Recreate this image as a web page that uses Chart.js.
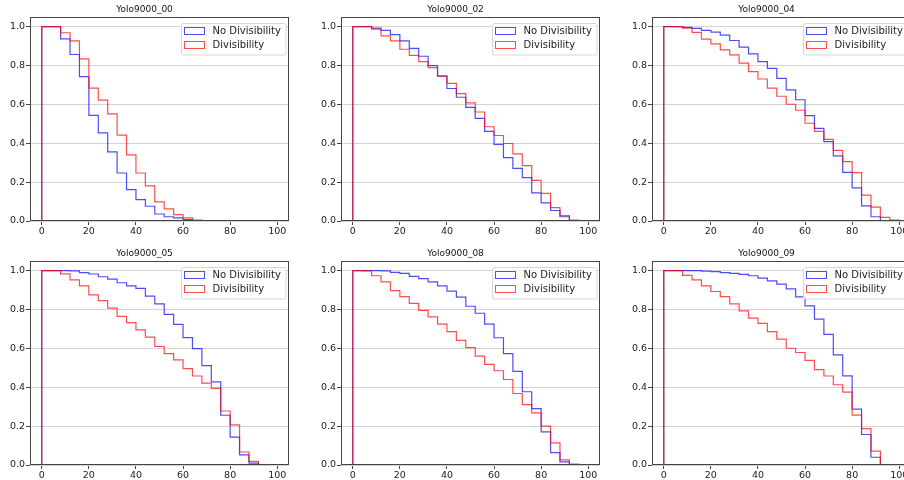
<!DOCTYPE html>
<html>
<head>
<meta charset="utf-8">
<script src="https://cdn.jsdelivr.net/npm/chart.js@4.4.1/dist/chart.umd.min.js"></script>
<style>
    html, body { margin: 0; padding: 0; background: #fff; }
    body { width: 904px; height: 480px; overflow: hidden; position: relative; }
    canvas { position: absolute; }
</style>
</head>
<body>
<canvas id="c0"></canvas>
<canvas id="c1"></canvas>
<canvas id="c2"></canvas>
<canvas id="c3"></canvas>
<canvas id="c4"></canvas>
<canvas id="c5"></canvas>
<script>
// Batas bin histogram (lebar 4)
const binEdges = [0, 4, 8, 12, 16, 20, 24, 28, 32, 36, 40, 44, 48, 52, 56, 60, 64, 68, 72, 76, 80, 84, 88, 92, 96, 100];
const xTicks = [0, 20, 40, 60, 80, 100];
const yTicks = [0, 0.2, 0.4, 0.6, 0.8, 1.0];
const seriesLabels = ['No Divisibility', 'Divisibility'];
const titles = ['Yolo9000_00', 'Yolo9000_02', 'Yolo9000_04', 'Yolo9000_05', 'Yolo9000_08', 'Yolo9000_09'];

// Nilai tiap bin
const noDiv00 = [1.0, 1.0, 0.937, 0.857, 0.743, 0.544, 0.454, 0.356, 0.247, 0.161, 0.110, 0.076, 0.036, 0.022, 0.016, 0.007, 0.002, 0, 0, 0, 0, 0, 0, 0, 0];
const div00   = [1.0, 1.0, 0.969, 0.927, 0.834, 0.684, 0.622, 0.551, 0.442, 0.340, 0.247, 0.181, 0.098, 0.062, 0.033, 0.016, 0.005, 0.001, 0, 0, 0, 0, 0, 0, 0];

const noDiv02 = [1.0, 1.0, 0.993, 0.981, 0.959, 0.927, 0.889, 0.848, 0.800, 0.746, 0.682, 0.637, 0.585, 0.528, 0.461, 0.394, 0.326, 0.271, 0.223, 0.145, 0.093, 0.054, 0.022, 0.003, 0];
const div02   = [1.0, 1.0, 0.988, 0.953, 0.927, 0.884, 0.852, 0.820, 0.789, 0.746, 0.708, 0.656, 0.608, 0.561, 0.485, 0.440, 0.399, 0.345, 0.285, 0.209, 0.142, 0.069, 0.028, 0.003, 0.001];

const noDiv04 = [1.0, 1.0, 0.997, 0.991, 0.981, 0.972, 0.957, 0.929, 0.895, 0.860, 0.820, 0.786, 0.734, 0.675, 0.624, 0.542, 0.477, 0.409, 0.335, 0.250, 0.171, 0.078, 0.022, 0, 0];
const div04   = [1.0, 1.0, 0.993, 0.971, 0.936, 0.912, 0.881, 0.855, 0.813, 0.769, 0.731, 0.684, 0.642, 0.601, 0.570, 0.503, 0.461, 0.420, 0.364, 0.306, 0.249, 0.133, 0.071, 0.019, 0.005];

const noDiv05 = [1.0, 1.0, 1.0, 0.999, 0.990, 0.983, 0.969, 0.957, 0.938, 0.922, 0.909, 0.869, 0.829, 0.775, 0.724, 0.656, 0.599, 0.511, 0.428, 0.256, 0.143, 0.052, 0.010, 0, 0];
const div05   = [1.0, 1.0, 0.984, 0.953, 0.922, 0.876, 0.846, 0.807, 0.765, 0.733, 0.696, 0.658, 0.610, 0.573, 0.541, 0.496, 0.458, 0.421, 0.394, 0.278, 0.207, 0.067, 0.019, 0.002, 0];

const noDiv08 = [1.0, 1.0, 1.0, 0.999, 0.991, 0.986, 0.971, 0.959, 0.943, 0.922, 0.895, 0.864, 0.817, 0.781, 0.725, 0.655, 0.573, 0.482, 0.377, 0.290, 0.171, 0.064, 0.016, 0.002, 0];
const div08   = [1.0, 0.999, 0.974, 0.943, 0.898, 0.867, 0.832, 0.796, 0.762, 0.725, 0.686, 0.641, 0.604, 0.560, 0.518, 0.485, 0.440, 0.368, 0.311, 0.268, 0.200, 0.114, 0.026, 0.005, 0];

const noDiv09 = [1.0, 1.0, 1.0, 1.0, 0.998, 0.995, 0.990, 0.986, 0.981, 0.974, 0.962, 0.948, 0.931, 0.907, 0.865, 0.819, 0.751, 0.672, 0.567, 0.459, 0.288, 0.157, 0.040, 0, 0];
const div09   = [1.0, 1.0, 0.976, 0.953, 0.922, 0.893, 0.867, 0.829, 0.793, 0.756, 0.729, 0.686, 0.648, 0.601, 0.579, 0.539, 0.491, 0.458, 0.413, 0.375, 0.257, 0.187, 0.071, 0, 0];

const panels = [
    [noDiv00, div00], [noDiv02, div02], [noDiv04, div04],
    [noDiv05, div05], [noDiv08, div08], [noDiv09, div09]
];

const BLUE = 'rgba(0, 0, 255, 0.7)';
const RED = 'rgba(255, 0, 0, 0.7)';
const FONT = "'DejaVu Sans', sans-serif";

// Posisi kanvas tiap subplot
const colLeft = [0, 311, 622];
const rowTop = [0, 244];
const CANVAS_W = 295;
const CANVAS_H = 241;

Chart.defaults.font.family = FONT;

// Ubah nilai bin menjadi garis tangga (histtype step)
function stepPoints(values) {
    const pts = [{ x: binEdges[0], y: 0 }];
    values.forEach((v, i) => {
        pts.push({ x: binEdges[i], y: v });
        pts.push({ x: binEdges[i + 1], y: v });
    });
    pts.push({ x: binEdges[binEdges.length - 1], y: 0 });
    return pts;
}

// Bingkai sumbu di keempat sisi
const framePlugin = {
    id: 'frame',
    afterDatasetsDraw(chart) {
        const a = chart.chartArea;
        const ctx = chart.ctx;
        ctx.save();
        ctx.strokeStyle = '#444';
        ctx.lineWidth = 1;
        const l = Math.round(a.left) + 0.5, t = Math.round(a.top) + 0.5;
        const r = Math.round(a.right) - 0.5, b = Math.round(a.bottom) - 0.5;
        ctx.strokeRect(l, t, r - l, b - t);
        ctx.restore();
    }
};

// Legenda di dalam area grafik, pojok kanan atas
const insideLegend = {
    id: 'insideLegend',
    afterDraw(chart) {
        const a = chart.chartArea;
        const ctx = chart.ctx;
        const boxW = 104.5, boxH = 31.5;
        const x = a.right - 4 - boxW;
        const y = a.top + 6;
        ctx.save();
        ctx.beginPath();
        ctx.roundRect(Math.round(x) + 0.5, Math.round(y) + 0.5, boxW, boxH, 2);
        ctx.fillStyle = 'rgba(255,255,255,0.8)';
        ctx.fill();
        ctx.strokeStyle = '#d6d6d6';
        ctx.lineWidth = 1;
        ctx.stroke();

        const items = [
            { label: seriesLabels[0], color: BLUE },
            { label: seriesLabels[1], color: RED }
        ];
        ctx.font = '10px ' + FONT;
        ctx.textBaseline = 'middle';
        items.forEach((item, i) => {
            const cy = Math.round(y + 8 + i * 14);
            ctx.strokeStyle = item.color;
            ctx.strokeRect(Math.round(x + 3.5) + 0.5, cy - 3.5, 20, 7);
            ctx.fillStyle = '#222';
            ctx.fillText(item.label, x + 32, cy + 0.5);
        });
        ctx.restore();
    }
};

function makePanel(idx) {
    const canvas = document.getElementById('c' + idx);
    canvas.width = CANVAS_W;
    canvas.height = CANVAS_H;
    canvas.style.left = colLeft[idx % 3] + 'px';
    canvas.style.top = rowTop[Math.floor(idx / 3)] + 'px';

    const [noDiv, div] = panels[idx];

    return new Chart(canvas.getContext('2d'), {
        type: 'line',
        data: {
            datasets: [{
                label: seriesLabels[0],
                data: stepPoints(noDiv),
                borderColor: BLUE,
                borderWidth: 1.2,
                pointRadius: 0,
                fill: false,
                order: 1
            }, {
                label: seriesLabels[1],
                data: stepPoints(div),
                borderColor: RED,
                borderWidth: 1.2,
                pointRadius: 0,
                fill: false,
                order: 0
            }]
        },
        options: {
            responsive: false,
            animation: false,
            devicePixelRatio: 1,
            layout: { padding: { left: 0, right: 6, top: 0, bottom: 0 } },
            scales: {
                x: {
                    type: 'linear',
                    min: -5,
                    max: 105,
                    afterBuildTicks: scale => { scale.ticks = xTicks.map(v => ({ value: v })); },
                    afterFit: scale => { scale.height = 20; },
                    grid: { drawOnChartArea: false, drawTicks: true, tickLength: 4, tickColor: '#444' },
                    border: { display: false },
                    ticks: { font: { size: 9.5 }, color: '#222', padding: 1, maxRotation: 0 }
                },
                y: {
                    min: 0,
                    max: 1.05,
                    afterBuildTicks: scale => { scale.ticks = yTicks.map(v => ({ value: v })); },
                    afterFit: scale => { scale.width = 30; },
                    grid: { color: '#d3d3d3', lineWidth: 1, tickLength: 4, tickColor: '#444' },
                    border: { display: false },
                    ticks: {
                        font: { size: 9.5 },
                        color: '#222',
                        padding: 1,
                        callback: value => value.toFixed(1)
                    }
                }
            },
            plugins: {
                legend: { display: false },
                tooltip: { enabled: false },
                title: {
                    display: true,
                    text: titles[idx],
                    color: '#111',
                    font: { size: 9, weight: 'normal' },
                    padding: { top: 4.6, bottom: 1.6 }
                }
            }
        },
        plugins: [framePlugin, insideLegend]
    });
}

for (let i = 0; i < 6; i++) {
    makePanel(i);
}
</script>
</body>
</html>
